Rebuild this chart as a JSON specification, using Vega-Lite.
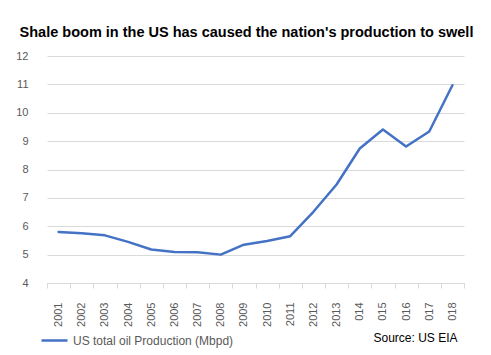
{
  "$schema": "https://vega.github.io/schema/vega-lite/v6.json",
  "autosize": {"type": "none"},
  "padding": {"left": 47, "top": 56, "right": 27, "bottom": 72},
  "width": 417,
  "height": 227,
  "background": "white",
  "title": {
    "text": "Shale boom in the US has caused the nation's production to swell",
    "font": "Liberation Sans",
    "fontSize": 14.5,
    "fontWeight": "bold",
    "color": "#000000",
    "anchor": "middle",
    "dx": -9,
    "offset": 10
  },
  "data": {
    "values": [
      {"year": "2001", "value": 5.80, "series": "US total oil Production (Mbpd)"},
      {"year": "2002", "value": 5.75, "series": "US total oil Production (Mbpd)"},
      {"year": "2003", "value": 5.68, "series": "US total oil Production (Mbpd)"},
      {"year": "2004", "value": 5.45, "series": "US total oil Production (Mbpd)"},
      {"year": "2005", "value": 5.18, "series": "US total oil Production (Mbpd)"},
      {"year": "2006", "value": 5.09, "series": "US total oil Production (Mbpd)"},
      {"year": "2007", "value": 5.08, "series": "US total oil Production (Mbpd)"},
      {"year": "2008", "value": 5.00, "series": "US total oil Production (Mbpd)"},
      {"year": "2009", "value": 5.35, "series": "US total oil Production (Mbpd)"},
      {"year": "2010", "value": 5.48, "series": "US total oil Production (Mbpd)"},
      {"year": "2011", "value": 5.65, "series": "US total oil Production (Mbpd)"},
      {"year": "2012", "value": 6.51, "series": "US total oil Production (Mbpd)"},
      {"year": "2013", "value": 7.47, "series": "US total oil Production (Mbpd)"},
      {"year": "2014", "value": 8.74, "series": "US total oil Production (Mbpd)"},
      {"year": "2015", "value": 9.41, "series": "US total oil Production (Mbpd)"},
      {"year": "2016", "value": 8.81, "series": "US total oil Production (Mbpd)"},
      {"year": "2017", "value": 9.34, "series": "US total oil Production (Mbpd)"},
      {"year": "2018", "value": 10.97, "series": "US total oil Production (Mbpd)"}
    ]
  },
  "mark": {"type": "line", "strokeWidth": 2.5, "strokeCap": "round", "strokeJoin": "round"},
  "encoding": {
    "x": {
      "field": "year",
      "type": "ordinal",
      "bandPosition": 0.5,
      "scale": {"type": "band", "paddingInner": 0, "paddingOuter": 0},
      "axis": {
        "title": "Source: US EIA",
        "titleFont": "Liberation Sans",
        "titleFontSize": 12,
        "titleFontWeight": "normal",
        "titleColor": "#000000",
        "titleX": 410,
        "titleY": 54,
        "titleAlign": "right",
        "titleBaseline": "middle",
        "labelAngle": -90,
        "labelAlign": "right",
        "labelBaseline": "middle",
        "labelFont": "Liberation Sans",
        "labelFontSize": 11,
        "labelColor": "#595959",
        "labelPadding": 14,
        "labelExpr": "toNumber(datum.value) >= 2014 ? substring(datum.value, 1) : datum.value",
        "tickBand": "extent",
        "tickSize": 5,
        "tickColor": "#d9d9d9",
        "domainColor": "#d9d9d9",
        "grid": false
      }
    },
    "y": {
      "field": "value",
      "type": "quantitative",
      "scale": {"domain": [4, 12], "nice": false, "zero": false},
      "axis": {
        "title": null,
        "values": [4, 5, 6, 7, 8, 9, 10, 11, 12],
        "domain": false,
        "ticks": false,
        "grid": true,
        "gridColor": "#d9d9d9",
        "labelFont": "Liberation Sans",
        "labelFontSize": 11,
        "labelColor": "#595959",
        "labelPadding": 19
      }
    },
    "color": {
      "field": "series",
      "type": "nominal",
      "scale": {"range": ["#4472C4"]},
      "legend": {
        "title": null,
        "orient": "none",
        "legendX": -7,
        "legendY": 270,
        "padding": 0,
        "symbolType": "stroke",
        "symbolSize": 676,
        "symbolStrokeWidth": 2.5,
        "labelFont": "Liberation Sans",
        "labelFontSize": 12,
        "labelColor": "#595959",
        "labelOffset": 4,
        "labelLimit": 0
      }
    }
  },
  "config": {"view": {"stroke": null}}
}
